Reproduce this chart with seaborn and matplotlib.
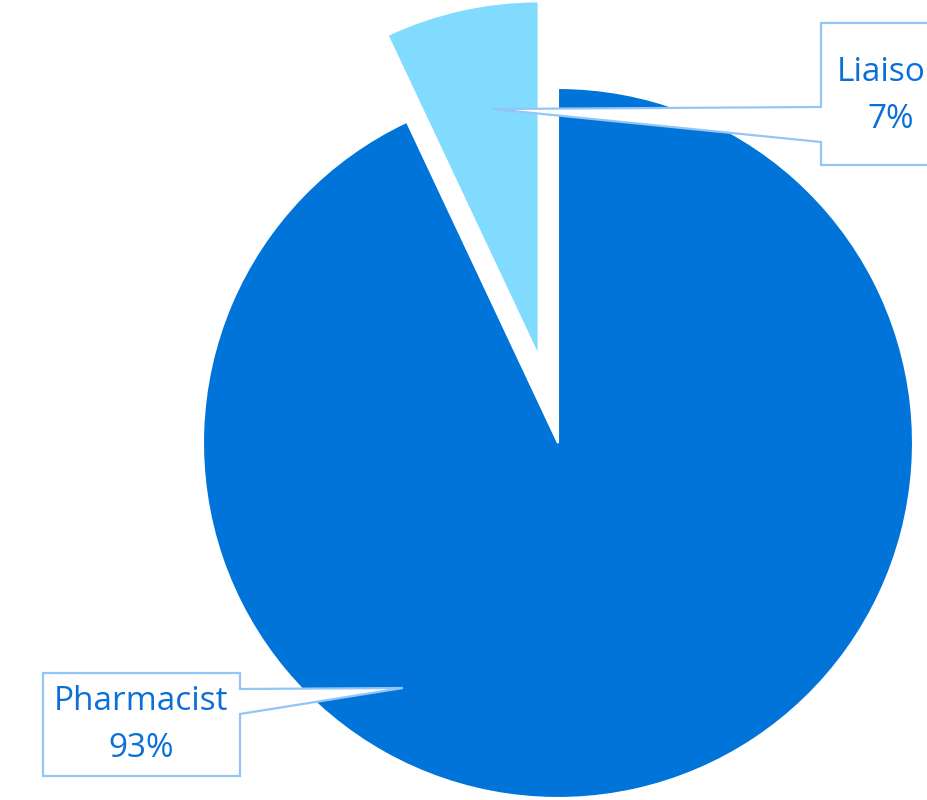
import matplotlib
matplotlib.use("Agg")
import matplotlib.pyplot as plt
from matplotlib.patches import Polygon
import seaborn as sns

# data
labels = ["Liaison", "Pharmacist"]
values = [7, 93]
colors = ["#80DBFF", "#0074D9"]

sns.set_theme(style="white")
plt.rcParams["font.family"] = ["Open Sans", "DejaVu Sans"]

W, H = 927, 800
fig = plt.figure(figsize=(W / 100, H / 100), dpi=100)
ax = fig.add_axes([0, 0, 1, 1])
ax.set_xlim(0, W)
ax.set_ylim(0, H)
ax.set_aspect("equal")
ax.axis("off")

# pie in pixel coordinates (y up); explode is in data units here
cx, cy, r = 558, H - 443, 355
ax.pie(values, colors=colors, startangle=90, counterclock=True,
       explode=[0.25 * r, 0], center=(cx, cy), radius=r,
       wedgeprops=dict(edgecolor="white", linewidth=1.5))
ax.set_xlim(0, W)
ax.set_ylim(0, H)

border = "#93C5F7"
text_col = "#0A6FD6"


def callout(box, tip, notch, side, text, tx, ty):
    # box = (x0, y0, x1, y1) in image px, notch = (ya, yb) on given side
    x0, y0, x1, y1 = box
    ya, yb = notch
    if side == "left":
        pts = [(x0, y0), (x1, y0), (x1, y1), (x0, y1), (x0, yb), tip, (x0, ya)]
    else:
        pts = [(x0, y0), (x1, y0), (x1, ya), tip, (x1, yb), (x1, y1), (x0, y1)]
    pts = [(px, H - py) for px, py in pts]
    ax.add_patch(Polygon(pts, closed=True, facecolor="white", edgecolor=border,
                         linewidth=1.6, zorder=5))
    ax.text(tx, H - ty, text, ha="center", va="center", color=text_col,
            fontsize=24, linespacing=1.57, zorder=6)


callout((821, 23, 962, 165), (493, 109), (107, 142), "left",
        f"{labels[0]}\n{values[0]}%", 891, 96)
callout((43, 673, 240, 776), (403, 688), (689, 714), "right",
        f"{labels[1]}\n{values[1]}%", 141, 725)

fig.savefig("out.png", dpi=100)
